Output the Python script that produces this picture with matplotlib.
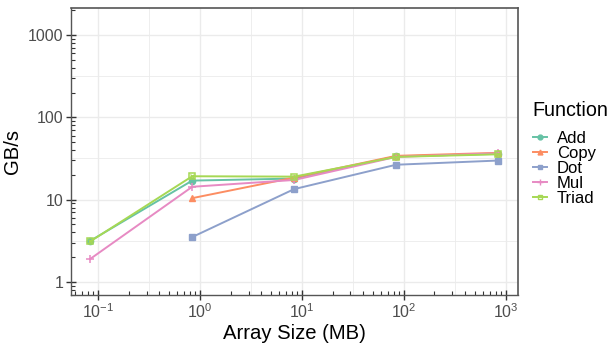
import matplotlib
matplotlib.use("Agg")
import matplotlib.pyplot as plt
import numpy as np
from matplotlib.ticker import LogLocator, FixedLocator, NullFormatter

plt.rcParams['font.family'] = ['Liberation Sans', 'DejaVu Sans']
plt.rcParams['mathtext.fontset'] = 'custom'
plt.rcParams['mathtext.rm'] = 'Liberation Sans'
plt.rcParams['mathtext.it'] = 'Liberation Sans'

sizes = [0.084, 0.84, 8.4, 84, 840]
functions = ["Add", "Copy", "Dot", "Mul", "Triad"]
add_vals = [3.15, 17.0, 18.0, 33.5, 36.0]
copy_vals = [None, 10.4, 18.5, 34.0, 37.0]
dot_vals = [None, 3.5, 13.4, 26.5, 29.8]
mul_vals = [1.9, 14.3, 17.3, 33.0, 36.5]
triad_vals = [3.1, 19.2, 19.0, 33.0, 35.5]
series = [add_vals, copy_vals, dot_vals, mul_vals, triad_vals]
colors = ["#66C2A5", "#FC8D62", "#8DA0CB", "#E78AC3", "#A6D854"]
markers = ["o", "^", "s", "+", "s"]

fig = plt.figure(figsize=(6.12, 3.43), dpi=100)
ax = fig.add_axes([0.116, 0.140, 0.730, 0.837])
ax.set_xscale("log")
ax.set_yscale("log")
ax.set_xlim(10**-1.265, 10**3.118)
ax.set_ylim(10**-0.16, 10**3.33)

# grid: major decades and minor midpoints
for d in range(-1, 4):
    ax.axvline(10**d, color="#EBEBEB", lw=1.0, zorder=0)
for d in range(-2, 4):
    ax.axvline(10**(d + 0.5), color="#EBEBEB", lw=0.6, zorder=0)
for d in range(0, 4):
    ax.axhline(10**d, color="#EBEBEB", lw=1.0, zorder=0)
for d in range(-1, 4):
    ax.axhline(10**(d + 0.5), color="#EBEBEB", lw=0.6, zorder=0)

handles = []
for name, vals, c, m in zip(functions, series, colors, markers):
    xs = [x for x, v in zip(sizes, vals) if v is not None]
    ys = [v for v in vals if v is not None]
    if name == "Triad":
        ax.plot(xs, ys, color=c, lw=1.4, marker="s", ms=4.8,
                markerfacecolor="none", markeredgewidth=1.1, zorder=3)
        ax.plot(xs, ys, color=c, lw=0, marker="x", ms=3.5, markeredgewidth=0.9, zorder=3)
        h, = ax.plot([], [], color=c, lw=1.4, marker="s", ms=3.5,
                     markerfacecolor="none", markeredgewidth=1.0)
    elif m == "+":
        ax.plot(xs, ys, color=c, lw=1.4, marker=m, ms=6, markeredgewidth=1.1, zorder=3)
        h, = ax.plot([], [], color=c, lw=1.4, marker=m, ms=5, markeredgewidth=1.0)
    else:
        ax.plot(xs, ys, color=c, lw=1.4, marker=m, ms=4.5, zorder=3)
        h, = ax.plot([], [], color=c, lw=1.4, marker=m, ms=3.5)
    handles.append(h)

ax.xaxis.set_major_locator(FixedLocator([10.0**d for d in range(-1, 4)]))
ax.yaxis.set_major_locator(FixedLocator([1, 10, 100, 1000]))
ax.xaxis.set_minor_locator(LogLocator(base=10, subs=np.arange(2, 10), numticks=20))
ax.yaxis.set_minor_locator(LogLocator(base=10, subs=np.arange(2, 10), numticks=20))
ax.xaxis.set_minor_formatter(NullFormatter())
ax.yaxis.set_minor_formatter(NullFormatter())
ax.set_xticklabels([r"$10^{-1}$", r"$10^{0}$", r"$10^{1}$", r"$10^{2}$", r"$10^{3}$"])
ax.set_yticklabels(["1", "10", "100", "1000"])
ax.tick_params(which="major", direction="inout", length=7, width=1.0, color="#333333",
               labelsize=11.5, labelcolor="#4D4D4D", pad=2)
ax.tick_params(which="minor", direction="in", length=3, width=0.8, color="#333333")

for s in ["top", "right"]:
    ax.spines[s].set_color("#555555")
    ax.spines[s].set_linewidth(1.2)
for s in ["left", "bottom"]:
    ax.spines[s].set_color("#555555")
    ax.spines[s].set_linewidth(1.0)

ax.set_xlabel("Array Size (MB)", fontsize=14.6, labelpad=2)
ax.set_ylabel("GB/s", fontsize=14.6, labelpad=4)

leg = fig.legend(handles=handles, labels=functions, title="Function",
                 loc="upper left", bbox_to_anchor=(0.8595, 0.725), frameon=False,
                 fontsize=12, title_fontsize=14.2, handlelength=0.85,
                 labelspacing=0.0, handletextpad=0.6, borderaxespad=0)
leg._legend_box.align = "left"
leg._legend_box.sep = 8

fig.savefig("out.png", dpi=100)
